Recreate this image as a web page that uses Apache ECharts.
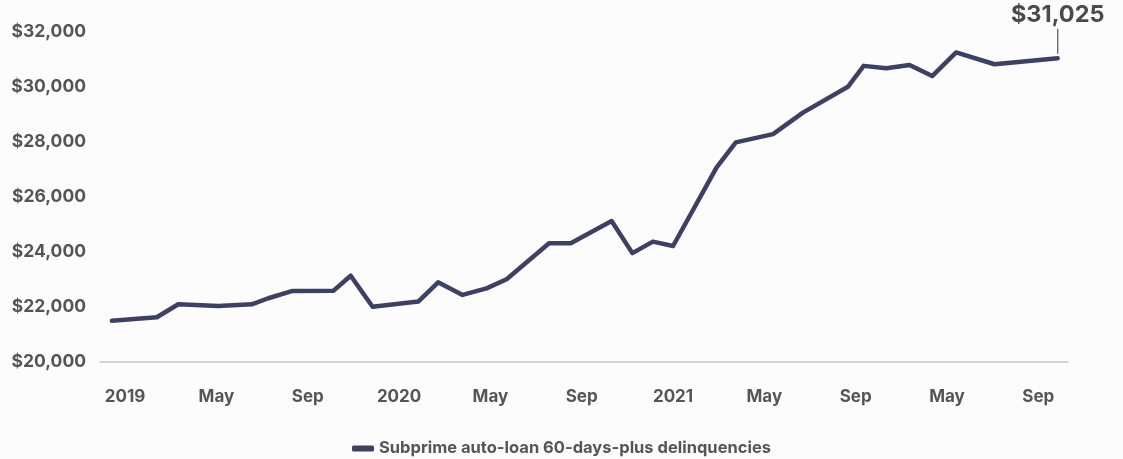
<!DOCTYPE html>
<html>
<head>
<meta charset="utf-8">
<script src="https://cdn.jsdelivr.net/npm/echarts@6/dist/echarts.min.js"></script>
<style>
html,body{margin:0;padding:0;background:#fcfcfc;}
#chart{width:1123px;height:459px;}
</style>
</head>
<body>
<div id="chart"></div>
<script>
// x position in months since Jan 2019
const monthPos = [-0.58, 1.39, 2.33, 4.08, 5.55, 6.27, 7.30, 9.12, 9.88, 10.84, 12.84, 13.71, 14.78, 15.83, 16.71, 18.57, 19.52, 21.31, 22.22, 23.12, 24.0, 25.91, 26.75, 28.38, 29.69, 31.66, 32.35, 33.34, 34.36, 35.35, 36.40, 38.08, 40.85];
const values = [21480, 21610, 22080, 22020, 22080, 22300, 22560, 22570, 23120, 21990, 22180, 22880, 22420, 22660, 22990, 24300, 24300, 25110, 23940, 24360, 24200, 27060, 27970, 28270, 29050, 29990, 30750, 30660, 30780, 30380, 31240, 30810, 31025];
const tickPos = [0, 4, 8, 12, 16, 20, 24, 28, 32, 36, 40];
const tickLabels = ['2019', 'May', 'Sep', '2020', 'May', 'Sep', '2021', 'May', 'Sep', 'May', 'Sep'];
const seriesName = 'Subprime auto-loan 60-days-plus delinquencies';
const lastLabel = '$31,025';

const FONT = 'Inter, "Noto Sans", sans-serif';
const data = monthPos.map((m, i) => [m, values[i]]);
const last = data[data.length - 1];

const chart = echarts.init(document.getElementById('chart'));
chart.setOption({
  backgroundColor: '#fcfcfc',
  animation: false,
  grid: { left: 100, right: 55, top: 31.5, bottom: 97.5 },
  xAxis: {
    type: 'value',
    min: -1.1,
    max: 41.3,
    splitLine: { show: false },
    axisLine: { show: true, lineStyle: { color: '#c8c8c8', width: 1.5 } },
    axisTick: { show: false },
    axisLabel: {
      customValues: tickPos,
      formatter: v => tickLabels[tickPos.indexOf(Math.round(v))] || '',
      color: '#555',
      fontFamily: FONT,
      fontWeight: 'bold',
      fontSize: 17,
      margin: 27
    }
  },
  yAxis: {
    type: 'value',
    min: 20000,
    max: 32000,
    interval: 2000,
    splitLine: { show: false },
    axisLine: { show: false },
    axisTick: { show: false },
    axisLabel: {
      formatter: v => '$' + v.toLocaleString('en-US'),
      color: '#555',
      fontFamily: FONT,
      fontWeight: 'bold',
      fontSize: 17.5,
      margin: 14
    }
  },
  legend: {
    bottom: 2,
    padding: 0,
    left: 'center',
    icon: 'roundRect',
    itemWidth: 22,
    itemHeight: 6,
    itemGap: 6,
    textStyle: { color: '#555', fontFamily: FONT, fontWeight: 'bold', fontSize: 16.5 },
    data: [seriesName]
  },
  series: [{
    name: seriesName,
    type: 'line',
    data: data,
    showSymbol: false,
    symbol: 'none',
    color: '#3d4062',
    lineStyle: { color: '#3d4062', width: 4.5, join: 'round', cap: 'round' },
    markPoint: {
      silent: true,
      data: [{
        coord: last,
        symbol: 'rect',
        symbolSize: [1.2, 25],
        symbolOffset: [0, -17],
        itemStyle: { color: '#555' },
        label: {
          show: true,
          position: 'top',
          distance: 2,
          formatter: lastLabel,
          color: '#4a4a4a',
          fontFamily: FONT,
          fontWeight: 'bold',
          fontSize: 23.5
        }
      }]
    }
  }]
});
</script>
</body>
</html>
